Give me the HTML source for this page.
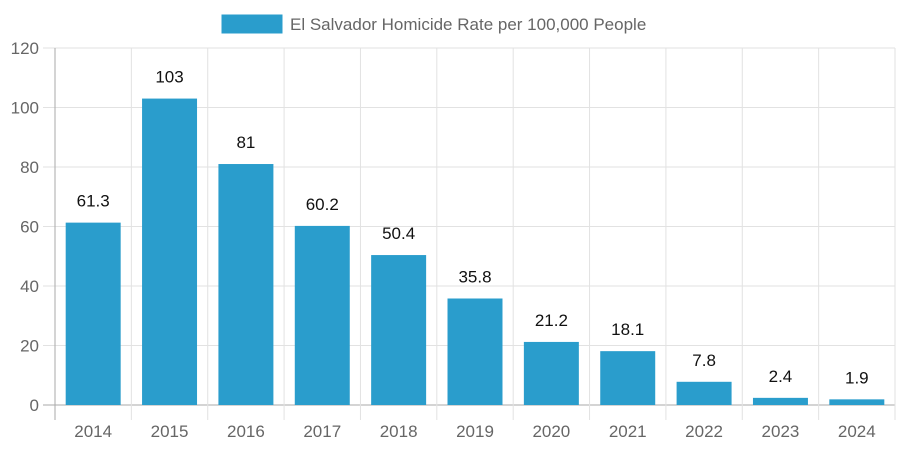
<!DOCTYPE html>
<html><head><meta charset="utf-8"><style>
body{margin:0;background:#fff;}
svg{display:block;font-family:"Liberation Sans",sans-serif;}
</style></head><body>
<svg id="c" width="900" height="450">
<g>
<rect x="222" y="15" width="60" height="18" fill="#2a9dcc" stroke="#2a9dcc"></rect>
<text x="290" y="30" font-size="17" fill="#666">El Salvador Homicide Rate per 100,000 People</text>
</g>
<g id="grid"></g><g id="bars"></g><g id="labels"></g>
</svg>
<script>
const categories=["2014","2015","2016","2017","2018","2019","2020","2021","2022","2023","2024"];
const values=[61.3,103,81,60.2,50.4,35.8,21.2,18.1,7.8,2.4,1.9];
const valueLabels=["61.3","103","81","60.2","50.4","35.8","21.2","18.1","7.8","2.4","1.9"];
const yTicks=[0,20,40,60,80,100,120];
const L=55,R=895,T=48,B=405,yMax=120;
const NS="http://www.w3.org/2000/svg";
const cw=(R-L)/categories.length;
function y(v){return B-(v/yMax)*(B-T);}
function x(i){return L+cw*i;}
function mk(tag,attrs,parent,text){const e=document.createElementNS(NS,tag);for(const k in attrs)e.setAttribute(k,attrs[k]);if(text!==undefined)e.textContent=text;parent.appendChild(e);return e;}
const grid=document.getElementById('grid'),bars=document.getElementById('bars'),labels=document.getElementById('labels');
yTicks.forEach(t=>{
  const l=mk('line',{x1:43,x2:R,y1:y(t),y2:y(t),stroke:t===0?'#aaa':'#e2e2e2','stroke-width':1},grid);
  
  
  const tx=mk('text',{x:39,y:y(t)+6,'text-anchor':'end','font-size':17,fill:'#666'},grid,String(t));
  
  
});
for(let i=0;i<=categories.length;i++){
  const l=mk('line',{x1:x(i),x2:x(i),y1:T,y2:420,stroke:i===0?'#aaa':'#e2e2e2','stroke-width':1},grid);
  
  
}
categories.forEach((c,i)=>{
  const cx=x(i)+cw/2,bw=cw*0.72;
  const r=mk('rect',{x:cx-bw/2,y:y(values[i]),width:bw,height:B-y(values[i]),fill:'#2a9dcc'},bars);
  
  
  const v=mk('text',{x:cx,y:y(values[i])-16,'text-anchor':'middle','font-size':17,fill:'#111'},labels,valueLabels[i]);
  
  
  const t=mk('text',{x:cx,y:437,'text-anchor':'middle','font-size':17,fill:'#666'},labels,c);
  
  
});
</script>
</body></html>
